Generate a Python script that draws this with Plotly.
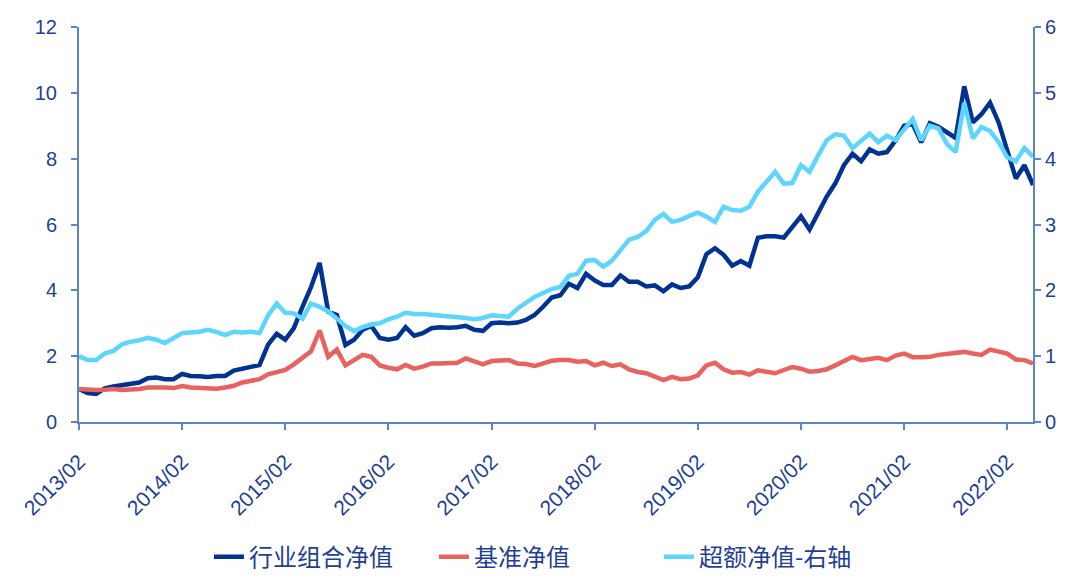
import pandas as pd
import plotly.graph_objects as go

months = [d.strftime("%Y/%m") for d in pd.date_range("2013-02-01", "2022-05-01", freq="MS")]
year_ticks = ["2013/02", "2014/02", "2015/02", "2016/02", "2017/02", "2018/02",
              "2019/02", "2020/02", "2021/02", "2022/02"]

portfolio = [1.00, 0.88, 0.85, 1.02, 1.08, 1.12, 1.15, 1.20, 1.33, 1.35, 1.30, 1.30,
             1.46, 1.40, 1.39, 1.37, 1.40, 1.40, 1.56, 1.62, 1.68, 1.73, 2.35, 2.68,
             2.50, 2.85, 3.50, 4.10, 4.83, 3.35, 3.25, 2.34, 2.50, 2.80, 2.92, 2.55,
             2.50, 2.55, 2.88, 2.62, 2.70, 2.85, 2.88, 2.86, 2.88, 2.92, 2.80, 2.77,
             3.00, 3.02, 3.00, 3.02, 3.10, 3.25, 3.50, 3.78, 3.85, 4.20, 4.07, 4.50,
             4.30, 4.16, 4.16, 4.45, 4.26, 4.26, 4.12, 4.15, 3.97, 4.18, 4.07, 4.12,
             4.40, 5.10, 5.28, 5.08, 4.75, 4.89, 4.75, 5.60, 5.64, 5.64, 5.60, 5.95,
             6.25, 5.85, 6.35, 6.85, 7.25, 7.80, 8.15, 7.92, 8.28, 8.15, 8.20, 8.55,
             9.00, 9.05, 8.50, 9.08, 8.97, 8.80, 8.63, 10.20, 9.10, 9.35, 9.70, 9.10,
             8.20, 7.40, 7.80, 7.20]

benchmark = [1.00, 0.97, 0.97, 0.98, 1.00, 0.97, 0.97, 1.00, 1.05, 1.06, 1.05, 1.03,
             1.09, 1.05, 1.04, 1.00, 1.01, 1.05, 1.10, 1.20, 1.25, 1.30, 1.45, 1.50,
             1.58, 1.75, 1.95, 2.15, 2.78, 1.98, 2.20, 1.72, 1.88, 2.04, 1.98, 1.72,
             1.65, 1.60, 1.73, 1.62, 1.68, 1.78, 1.78, 1.78, 1.80, 1.93, 1.85, 1.75,
             1.85, 1.88, 1.88, 1.78, 1.76, 1.70, 1.78, 1.86, 1.88, 1.88, 1.83, 1.85,
             1.72, 1.80, 1.70, 1.75, 1.60, 1.52, 1.48, 1.38, 1.27, 1.37, 1.30, 1.32,
             1.42, 1.72, 1.80, 1.60, 1.50, 1.52, 1.44, 1.57, 1.52, 1.48, 1.58, 1.67,
             1.62, 1.53, 1.55, 1.60, 1.72, 1.85, 1.98, 1.88, 1.93, 1.95, 1.88, 2.02,
             2.08, 1.97, 1.97, 1.98, 2.04, 2.06, 2.10, 2.13, 2.08, 2.04, 2.20, 2.15,
             2.08, 1.90, 1.88, 1.78]

excess = [1.00, 0.94, 0.94, 1.04, 1.08, 1.18, 1.22, 1.24, 1.28, 1.25, 1.20, 1.28,
          1.35, 1.36, 1.37, 1.40, 1.37, 1.32, 1.37, 1.36, 1.37, 1.35, 1.62, 1.80,
          1.66, 1.65, 1.57, 1.80, 1.75, 1.68, 1.56, 1.46, 1.38, 1.44, 1.48, 1.50,
          1.56, 1.60, 1.66, 1.64, 1.64, 1.63, 1.62, 1.61, 1.60, 1.58, 1.56, 1.58,
          1.62, 1.61, 1.60, 1.72, 1.80, 1.90, 1.96, 2.02, 2.05, 2.22, 2.25, 2.45,
          2.46, 2.36, 2.45, 2.60, 2.77, 2.81, 2.90, 3.07, 3.16, 3.04, 3.07, 3.13,
          3.18, 3.12, 3.04, 3.27, 3.22, 3.21, 3.27, 3.50, 3.66, 3.80, 3.62, 3.63,
          3.90, 3.80, 4.05, 4.28, 4.37, 4.35, 4.16, 4.26, 4.38, 4.25, 4.35, 4.28,
          4.44, 4.60, 4.28, 4.50, 4.46, 4.22, 4.10, 4.85, 4.31, 4.48, 4.42, 4.25,
          4.02, 3.96, 4.16, 4.03]

names = ["行业组合净值", "基准净值", "超额净值-右轴"]
colors = ["#003391", "#E8625F", "#5DD5FD"]

text_color = "#1F3F93"
axis_color = "#5A86C8"

fig = go.Figure()
fig.add_trace(go.Scatter(x=months, y=portfolio, name=names[0], mode="lines",
                         line=dict(color=colors[0], width=4.5)))
fig.add_trace(go.Scatter(x=months, y=benchmark, name=names[1], mode="lines",
                         line=dict(color=colors[1], width=4.5)))
fig.add_trace(go.Scatter(x=months, y=excess, name=names[2], mode="lines", yaxis="y2",
                         line=dict(color=colors[2], width=4.5)))

tick_font = dict(family="Liberation Sans, Arial", size=20, color=text_color)
xtick_font = dict(family="Liberation Sans, Arial", size=21, color=text_color)

fig.update_layout(
    width=1061, height=569,
    margin=dict(l=71, r=36, t=19, b=155, autoexpand=False),
    paper_bgcolor="white", plot_bgcolor="white",
    showlegend=True,
    legend=dict(orientation="h", x=0.49, xanchor="center", y=-0.342, yanchor="middle",
                font=dict(family="Noto Sans CJK SC", size=24, color=text_color),
                entrywidth=180, entrywidthmode="pixels", tracegroupgap=0),
    xaxis=dict(type="category", range=[0, len(months) - 1], automargin=False,
               tickmode="array", tickvals=year_ticks, ticktext=year_ticks,
               tickangle=-45, tickfont=xtick_font, ticklabelstandoff=11,
               showgrid=False, zeroline=False,
               showline=True, linecolor=axis_color, linewidth=2,
               ticks="outside", tickcolor=axis_color, ticklen=6, tickwidth=2),
    yaxis=dict(range=[0, 12], dtick=2, tickfont=tick_font, automargin=False,
               ticklabelstandoff=10,
               showgrid=False, zeroline=False,
               showline=True, linecolor=axis_color, linewidth=2,
               ticks="outside", tickcolor=axis_color, ticklen=6, tickwidth=2),
    yaxis2=dict(range=[0, 6], dtick=1, overlaying="y", side="right", tickfont=tick_font,
                automargin=False,
                showgrid=False, zeroline=False,
                showline=True, linecolor=axis_color, linewidth=2,
                ticks="outside", tickcolor=axis_color, ticklen=6, tickwidth=2),
)

fig.write_html("out.html")
